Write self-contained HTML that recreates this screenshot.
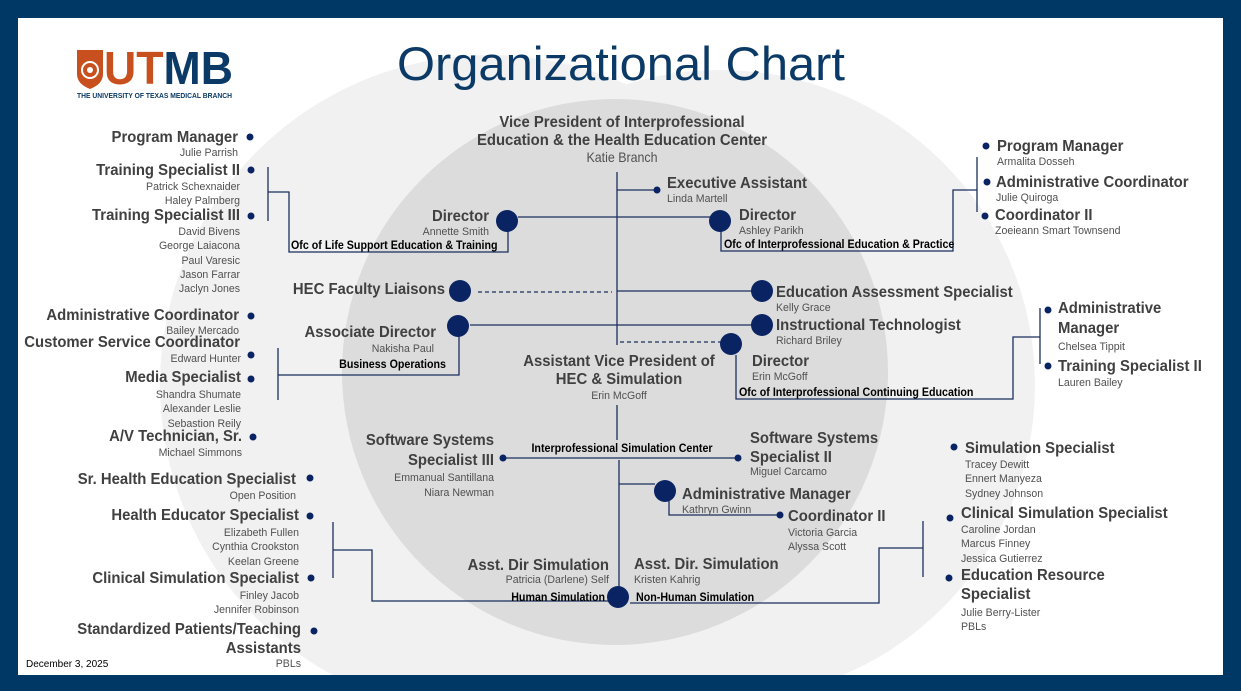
<!DOCTYPE html>
<html><head><meta charset="utf-8"><style>
html,body{margin:0;padding:0;background:#003865;}
svg{display:block}
.t{font-family:"Liberation Sans",sans-serif;font-weight:bold;font-size:15.5px;fill:#404040}
.n{font-family:"Liberation Sans",sans-serif;font-size:11.5px;fill:#505050}
.b{font-family:"Liberation Sans",sans-serif;font-weight:bold;font-size:11.5px;fill:#000}
.l{stroke:#1b2f5e;stroke-width:1.3;fill:none}
.d{fill:#0a2463}
</style></head><body>
<svg width="1241" height="691" viewBox="0 0 1241 691" xmlns="http://www.w3.org/2000/svg">
<rect width="1241" height="691" fill="#003865"/>
<defs><clipPath id="c"><rect x="18" y="18" width="1205" height="657"/></clipPath></defs>
<rect x="18" y="18" width="1205" height="657" fill="#fff"/>
<g clip-path="url(#c)">
<circle cx="490" cy="385" r="330" fill="#f1f1f1"/>
<circle cx="720" cy="385" r="315" fill="#f1f1f1"/>
<circle cx="615" cy="372" r="273" fill="#dcdcdc"/>
</g>
<!-- logo -->
<path d="M77 50 L103 50 L103 74 Q103 84 90 89 Q77 84 77 74 Z" fill="#c8501e"/>
<circle cx="90" cy="70" r="8" fill="none" stroke="#fff" stroke-width="2"/>
<circle cx="90" cy="70" r="3" fill="#fff"/>
<text x="104" y="84" font-family="Liberation Sans,sans-serif" font-weight="bold" font-size="46" textLength="129" lengthAdjust="spacingAndGlyphs"><tspan fill="#c8501e">UT</tspan><tspan fill="#0b3a66">MB</tspan></text>
<text x="77" y="98" font-family="Liberation Sans,sans-serif" font-weight="bold" font-size="7" fill="#0b3a66" textLength="155" lengthAdjust="spacingAndGlyphs">THE UNIVERSITY OF TEXAS MEDICAL BRANCH</text>
<text x="397" y="80" font-family="Liberation Sans,sans-serif" font-size="47" fill="#0b3a66" textLength="448" lengthAdjust="spacingAndGlyphs">Organizational Chart</text>

<!-- lines -->
<g class="l">
<path d="M617 172 V345"/>
<path d="M617 190 H657"/>
<path d="M518 217 H710"/>
<path d="M268 167 V221 M268 192 H289 V252 H508 V222"/>
<path d="M721 221 V251 H953 V190 H977 M977 157 V212"/>
<path d="M617 291 H752"/>
<path d="M470 325 H752"/>
<path d="M278 348 V400 M278 375 H459 V326"/>
<path d="M736 355 V399 H1013 V337 H1040 M1040 308 V364"/>
<path d="M617 405 V440"/>
<path d="M503 458 H738"/>
<path d="M619 460 V597 M619 484 H655"/>
<path d="M669 495 V515 H780"/>
<path d="M333 522 V578 M333 550 H372 V601 H612"/>
<path d="M630 603 H879 V548 H923 M923 521 V577"/>
</g>
<g class="l" stroke-dasharray="4 3">
<path d="M478 292 H612"/>
<path d="M620 342 H722"/>
</g>

<!-- dots -->
<g class="d">
<circle cx="250" cy="137" r="3.5"/><circle cx="251" cy="170" r="3.5"/><circle cx="251" cy="216" r="3.5"/>
<circle cx="251" cy="316" r="3.5"/><circle cx="251" cy="355" r="3.5"/><circle cx="251" cy="379" r="3.5"/><circle cx="253" cy="437" r="3.5"/>
<circle cx="310" cy="478" r="3.5"/><circle cx="310" cy="516" r="3.5"/><circle cx="311" cy="578" r="3.5"/><circle cx="314" cy="631" r="3.5"/>
<circle cx="507" cy="221" r="11"/><circle cx="720" cy="221" r="11"/><circle cx="460" cy="291" r="11"/><circle cx="458" cy="326" r="11"/>
<circle cx="762" cy="291" r="11"/><circle cx="762" cy="325" r="11"/><circle cx="731" cy="344" r="11"/>
<circle cx="665" cy="491" r="11"/><circle cx="618" cy="597" r="11"/>
<circle cx="657" cy="190" r="3.5"/><circle cx="503" cy="458" r="3.5"/><circle cx="738" cy="458" r="3.5"/><circle cx="780" cy="515" r="3.5"/>
<circle cx="986" cy="146" r="3.5"/><circle cx="987" cy="182" r="3.5"/><circle cx="985" cy="216" r="3.5"/>
<circle cx="1048" cy="310" r="3.5"/><circle cx="1048" cy="366" r="3.5"/>
<circle cx="954" cy="447" r="3.5"/><circle cx="950" cy="518" r="3.5"/><circle cx="949" cy="578" r="3.5"/>
</g>

<!-- left column (right-anchored) -->
<g text-anchor="end">
<text class="t" transform="translate(238,142) scale(0.96,1)">Program Manager</text>
<text class="n" transform="translate(238,156) scale(0.92,1)">Julie Parrish</text>
<text class="t" transform="translate(240,175) scale(0.96,1)">Training Specialist II</text>
<text class="n" transform="translate(240,190) scale(0.92,1)">Patrick Schexnaider</text>
<text class="n" transform="translate(240,204) scale(0.92,1)">Haley  Palmberg</text>
<text class="t" transform="translate(240,220) scale(0.96,1)">Training Specialist III</text>
<text class="n" transform="translate(240,235) scale(0.92,1)">David Bivens</text>
<text class="n" transform="translate(240,249) scale(0.92,1)">George Laiacona</text>
<text class="n" transform="translate(240,264) scale(0.92,1)">Paul Varesic</text>
<text class="n" transform="translate(240,278) scale(0.92,1)">Jason Farrar</text>
<text class="n" transform="translate(240,292) scale(0.92,1)">Jaclyn Jones</text>
<text class="t" transform="translate(239,320) scale(0.96,1)">Administrative Coordinator</text>
<text class="n" transform="translate(239,334) scale(0.92,1)">Bailey Mercado</text>
<text class="t" transform="translate(240,347) scale(0.96,1)">Customer Service Coordinator</text>
<text class="n" transform="translate(241,362) scale(0.92,1)">Edward Hunter</text>
<text class="t" transform="translate(241,382) scale(0.96,1)">Media Specialist</text>
<text class="n" transform="translate(241,398) scale(0.92,1)">Shandra Shumate</text>
<text class="n" transform="translate(241,412) scale(0.92,1)">Alexander Leslie</text>
<text class="n" transform="translate(241,427) scale(0.92,1)">Sebastion Reily</text>
<text class="t" transform="translate(242,441) scale(0.96,1)">A/V Technician, Sr.</text>
<text class="n" transform="translate(242,456) scale(0.92,1)">Michael Simmons</text>
<text class="t" transform="translate(296,484) scale(0.96,1)">Sr. Health Education Specialist</text>
<text class="n" transform="translate(296,499) scale(0.92,1)">Open Position</text>
<text class="t" transform="translate(299,520) scale(0.96,1)">Health Educator Specialist</text>
<text class="n" transform="translate(299,536) scale(0.92,1)">Elizabeth Fullen</text>
<text class="n" transform="translate(299,550) scale(0.92,1)">Cynthia Crookston</text>
<text class="n" transform="translate(299,565) scale(0.92,1)">Keelan Greene</text>
<text class="t" transform="translate(299,583) scale(0.96,1)">Clinical Simulation Specialist</text>
<text class="n" transform="translate(299,599) scale(0.92,1)">Finley Jacob</text>
<text class="n" transform="translate(299,613) scale(0.92,1)">Jennifer Robinson</text>
<text class="t" transform="translate(301,634) scale(0.96,1)">Standardized Patients/Teaching</text>
<text class="t" transform="translate(301,653) scale(0.96,1)">Assistants</text>
<text class="n" transform="translate(301,667) scale(0.92,1)">PBLs</text>

<text class="t" transform="translate(489,221) scale(0.96,1)">Director</text>
<text class="n" transform="translate(489,235) scale(0.92,1)">Annette Smith</text>
<text class="t" transform="translate(445,294) scale(0.96,1)">HEC Faculty Liaisons</text>
<text class="t" transform="translate(436,337) scale(0.96,1)">Associate Director</text>
<text class="n" transform="translate(434,352) scale(0.92,1)">Nakisha Paul</text>
<text class="b" transform="translate(446,368) scale(0.93,1)">Business Operations</text>
<text class="t" transform="translate(494,445) scale(0.96,1)">Software Systems</text>
<text class="t" transform="translate(494,465) scale(0.96,1)">Specialist III</text>
<text class="n" transform="translate(494,481) scale(0.92,1)">Emmanual Santillana</text>
<text class="n" transform="translate(494,496) scale(0.92,1)">Niara Newman</text>
<text class="t" transform="translate(609,570) scale(0.96,1)">Asst. Dir Simulation</text>
<text class="n" transform="translate(609,583) scale(0.92,1)">Patricia (Darlene) Self</text>
<text class="b" transform="translate(605,601) scale(0.93,1)">Human Simulation</text>
</g>
<text class="b" transform="translate(291,249) scale(0.93,1)">Ofc of Life Support Education &amp; Training</text>

<!-- center -->
<g text-anchor="middle">
<text class="t" transform="translate(622,127) scale(0.96,1)">Vice President of Interprofessional</text>
<text class="t" transform="translate(622,145) scale(0.96,1)">Education &amp; the Health Education Center</text>
<text class="n" style="font-size:13.5px" transform="translate(622,162) scale(0.92,1)">Katie Branch</text>
<text class="t" transform="translate(619,366) scale(0.96,1)">Assistant Vice President of</text>
<text class="t" transform="translate(619,384) scale(0.96,1)">HEC &amp; Simulation</text>
<text class="n" transform="translate(619,399) scale(0.92,1)">Erin McGoff</text>
<text class="b" transform="translate(622,452) scale(0.93,1)">Interprofessional Simulation Center</text>
</g>

<!-- right side (left-anchored) -->
<text class="t" transform="translate(667,188) scale(0.96,1)">Executive Assistant</text>
<text class="n" transform="translate(667,202) scale(0.92,1)">Linda Martell</text>
<text class="t" transform="translate(739,220) scale(0.96,1)">Director</text>
<text class="n" transform="translate(739,234) scale(0.92,1)">Ashley Parikh</text>
<text class="b" transform="translate(724,248) scale(0.93,1)">Ofc of Interprofessional Education &amp; Practice</text>
<text class="t" transform="translate(997,151) scale(0.96,1)">Program Manager</text>
<text class="n" transform="translate(997,165) scale(0.92,1)">Armalita Dosseh</text>
<text class="t" transform="translate(996,187) scale(0.96,1)">Administrative Coordinator</text>
<text class="n" transform="translate(996,201) scale(0.92,1)">Julie Quiroga</text>
<text class="t" transform="translate(995,220) scale(0.96,1)">Coordinator II</text>
<text class="n" transform="translate(995,234) scale(0.92,1)">Zoeieann Smart Townsend</text>
<text class="t" transform="translate(776,297) scale(0.96,1)">Education Assessment Specialist</text>
<text class="n" transform="translate(776,311) scale(0.92,1)">Kelly Grace</text>
<text class="t" transform="translate(776,330) scale(0.96,1)">Instructional Technologist</text>
<text class="n" transform="translate(776,344) scale(0.92,1)">Richard Briley</text>
<text class="t" transform="translate(752,366) scale(0.96,1)">Director</text>
<text class="n" transform="translate(752,380) scale(0.92,1)">Erin McGoff</text>
<text class="b" transform="translate(739,396) scale(0.93,1)">Ofc of Interprofessional Continuing Education</text>
<text class="t" transform="translate(1058,313) scale(0.96,1)">Administrative</text>
<text class="t" transform="translate(1058,333) scale(0.96,1)">Manager</text>
<text class="n" transform="translate(1058,350) scale(0.92,1)">Chelsea Tippit</text>
<text class="t" transform="translate(1058,371) scale(0.96,1)">Training Specialist II</text>
<text class="n" transform="translate(1058,386) scale(0.92,1)">Lauren Bailey</text>
<text class="t" transform="translate(750,443) scale(0.96,1)">Software Systems</text>
<text class="t" transform="translate(750,462) scale(0.96,1)">Specialist II</text>
<text class="n" transform="translate(750,475) scale(0.92,1)">Miguel Carcamo</text>
<text class="t" transform="translate(682,499) scale(0.96,1)">Administrative Manager</text>
<text class="n" transform="translate(682,513) scale(0.92,1)">Kathryn Gwinn</text>
<text class="t" transform="translate(788,521) scale(0.96,1)">Coordinator II</text>
<text class="n" transform="translate(788,536) scale(0.92,1)">Victoria Garcia</text>
<text class="n" transform="translate(788,550) scale(0.92,1)">Alyssa Scott</text>
<text class="t" transform="translate(634,569) scale(0.96,1)">Asst. Dir. Simulation</text>
<text class="n" transform="translate(634,583) scale(0.92,1)">Kristen Kahrig</text>
<text class="b" transform="translate(636,601) scale(0.93,1)">Non-Human Simulation</text>
<text class="t" transform="translate(965,453) scale(0.96,1)">Simulation Specialist</text>
<text class="n" transform="translate(965,468) scale(0.92,1)">Tracey Dewitt</text>
<text class="n" transform="translate(965,482) scale(0.92,1)">Ennert Manyeza</text>
<text class="n" transform="translate(965,497) scale(0.92,1)">Sydney Johnson</text>
<text class="t" transform="translate(961,518) scale(0.96,1)">Clinical Simulation Specialist</text>
<text class="n" transform="translate(961,533) scale(0.92,1)">Caroline Jordan</text>
<text class="n" transform="translate(961,547) scale(0.92,1)">Marcus Finney</text>
<text class="n" transform="translate(961,562) scale(0.92,1)">Jessica Gutierrez</text>
<text class="t" transform="translate(961,580) scale(0.96,1)">Education Resource</text>
<text class="t" transform="translate(961,599) scale(0.96,1)">Specialist</text>
<text class="n" transform="translate(961,616) scale(0.92,1)">Julie Berry-Lister</text>
<text class="n" transform="translate(961,630) scale(0.92,1)">PBLs</text>

<text x="26" y="667" font-family="Liberation Sans,sans-serif" font-size="10" fill="#000">December 3, 2025</text>
</svg>
</body></html>
